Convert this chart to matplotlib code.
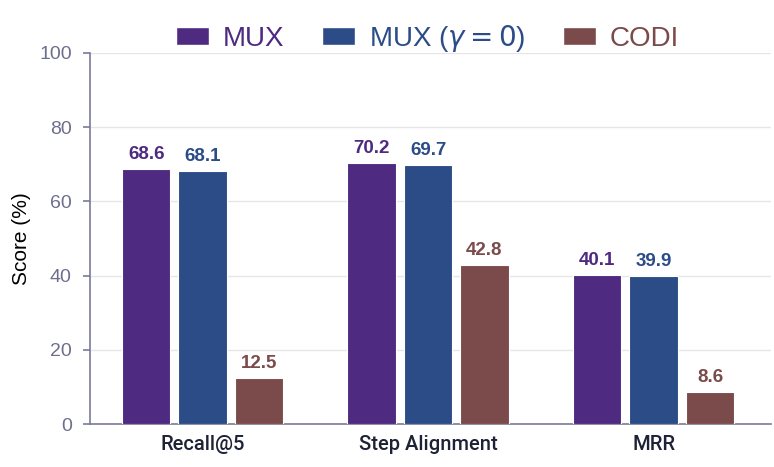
import numpy as np
import matplotlib.pyplot as plt
from matplotlib.patches import Patch

plt.rcParams['font.family'] = ['Liberation Sans', 'DejaVu Sans']
plt.rcParams['mathtext.fontset'] = 'dejavusans'

categories = ['Recall@5', 'Step Alignment', 'MRR']
series = ['MUX', r'MUX ($\gamma = 0$)', 'CODI']
mux = [68.6, 70.2, 40.1]
mux_g0 = [68.1, 69.7, 39.9]
codi = [12.5, 42.8, 8.6]
colors = ['#4E2A80', '#2C4C87', '#7B4A4A']

fig = plt.figure(figsize=(7.74, 4.67), dpi=100)
ax = fig.add_axes([0.116, 0.092, 0.880, 0.795])

x = np.arange(len(categories))
width = 0.215
offsets = [-0.25, 0.0, 0.25]
for vals, off, c in zip([mux, mux_g0, codi], offsets, colors):
    bars = ax.bar(x + off, vals, width, color=c, edgecolor='white', linewidth=0.8, zorder=3)
    for b, v in zip(bars, vals):
        ax.text(b.get_x() + b.get_width() / 2, v + 1.6, f'{v:.1f}', ha='center', va='bottom',
                color=c, fontsize=13.5, fontweight='bold')

ax.set_xlim(-0.5, 2.52)
ax.set_ylim(0, 100)
ax.set_yticks([0, 20, 40, 60, 80, 100])
ax.yaxis.grid(True, color='#E6E6E6', linewidth=1, zorder=0)
ax.set_axisbelow(True)
ax.set_xticks(x)
ax.set_xticklabels(categories, fontsize=14.5, color='#1E2235',
                   family=['Roboto', 'Liberation Sans'], fontweight='medium')
ax.tick_params(axis='x', length=0, pad=8)
ax.tick_params(axis='y', colors='#7A7A9A', labelsize=14, length=5, width=1.2,
               labelcolor='#6E6E8E', pad=8)
ax.set_ylabel('Score (%)', fontsize=15, color='black', labelpad=6)

for s in ['top', 'right']:
    ax.spines[s].set_visible(False)
for s in ['left', 'bottom']:
    ax.spines[s].set_color('#7A7A9A')
    ax.spines[s].set_linewidth(1.2)

handles = [Patch(facecolor=c, edgecolor='white') for c in colors]
leg = fig.legend(handles, series, loc='upper center', bbox_to_anchor=(0.552, 1.005), ncol=3,
                 frameon=False, fontsize=20, handlelength=1.19, handleheight=0.61,
                 columnspacing=1.35, handletextpad=0.5)
for t, c in zip(leg.get_texts(), colors):
    t.set_color(c)

fig.savefig('out.png', dpi=100)
